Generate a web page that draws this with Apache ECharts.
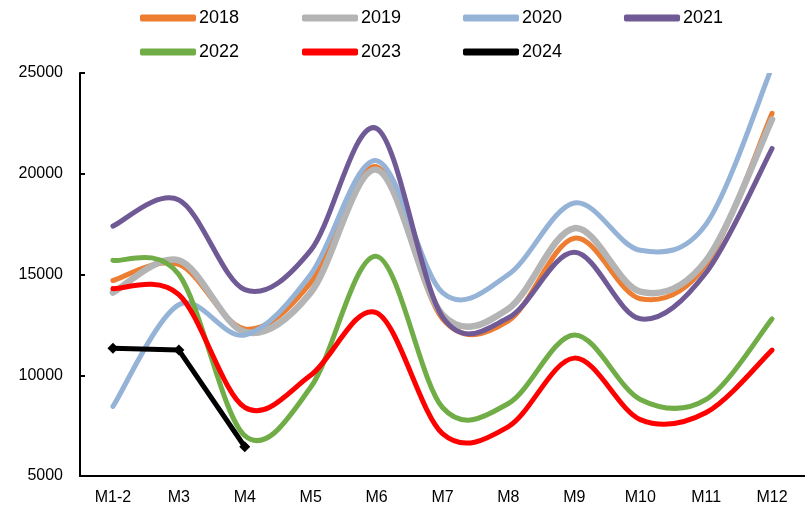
<!DOCTYPE html>
<html>
<head>
<meta charset="utf-8">
<script src="https://cdn.jsdelivr.net/npm/echarts@6/dist/echarts.min.js"></script>
<style>
html,body{margin:0;padding:0;background:#fff;}
#chart{width:805px;height:509px;}
</style>
</head>
<body>
<div id="chart"></div>
<script>
var categories = ['M1-2','M3','M4','M5','M6','M7','M8','M9','M10','M11','M12'];
var yTicks = [5000, 10000, 15000, 20000, 25000];
var s2018 = [14700, 15500, 12300, 14600, 20350, 12800, 12700, 16800, 13800, 15500, 23000];
var s2019 = [14100, 15700, 12150, 14100, 20200, 13000, 13300, 17300, 14150, 15700, 22700];
var s2020 = [8450, 13500, 12000, 15000, 20650, 14100, 15000, 18550, 16200, 17500, 25300];
var s2021 = [17400, 18700, 14250, 16200, 22250, 12900, 12850, 16100, 12800, 15100, 21250];
var s2022 = [15700, 15000, 7000, 9400, 15900, 8400, 8600, 12000, 8800, 8800, 12800];
var s2023 = [14300, 14000, 8400, 10000, 13100, 7100, 7450, 10850, 7800, 8150, 11250];
var s2024 = [11340, 11250, 6450];

var FONT = "'Liberation Sans', Arial, sans-serif";
var chart = echarts.init(document.getElementById('chart'), null, {renderer:'canvas'});

// Smooth curve through the points (Catmull-Rom style, like spreadsheet smoothing),
// positions obtained from the chart's own axes via api.coord.
function splineSeries(name, data, color, width) {
  return {
    name: name, type: 'custom', clip: true, silent: true,
    data: data.map(function (v, i) { return [i, v]; }),
    encode: {x: 0, y: 1},
    itemStyle: {color: color},
    renderItem: function (params, api) {
      if (params.dataIndex !== 0) return null;
      var pts = data.map(function (v, i) { return api.coord([i, v]); });
      var d = 'M' + pts[0][0] + ' ' + pts[0][1];
      for (var i = 0; i < pts.length - 1; i++) {
        var p0 = pts[i - 1] || pts[i], p1 = pts[i], p2 = pts[i + 1], p3 = pts[i + 2] || pts[i + 1];
        var c1x = p1[0] + (p2[0] - p0[0]) / 6, c1y = p1[1] + (p2[1] - p0[1]) / 6;
        var c2x = p2[0] - (p3[0] - p1[0]) / 6, c2y = p2[1] - (p3[1] - p1[1]) / 6;
        d += ' C' + c1x + ' ' + c1y + ' ' + c2x + ' ' + c2y + ' ' + p2[0] + ' ' + p2[1];
      }
      return {
        type: 'path',
        shape: {pathData: d},
        style: {fill: 'none', stroke: color, lineWidth: width, lineCap: 'round', lineJoin: 'round'}
      };
    }
  };
}

var legendPos = [
  {name: '2018', left: 140, top: 9}, {name: '2019', left: 302, top: 9},
  {name: '2020', left: 463, top: 9}, {name: '2021', left: 624, top: 9},
  {name: '2022', left: 140, top: 43}, {name: '2023', left: 302, top: 43},
  {name: '2024', left: 463, top: 43}
];
var legends = legendPos.map(function (p) {
  return {
    data: [p.name], left: p.left, top: p.top, padding: 0,
    itemWidth: 56, itemHeight: 7, itemGap: 0, icon: 'roundRect',
    textStyle: {fontFamily: FONT, fontSize: 18, color: '#000', padding: [0, 0, 0, -2]},
    selectedMode: false
  };
});

var option = {
  animation: false,
  backgroundColor: '#fff',
  legend: legends,
  grid: {left: 80, right: 0, top: 73, bottom: 33, containLabel: false},
  xAxis: {
    type: 'category', data: categories, boundaryGap: true,
    axisLine: {lineStyle: {color: '#000', width: 2}},
    axisTick: {inside: true, length: 5, interval: 0, lineStyle: {color: '#000', width: 2}},
    axisLabel: {fontFamily: FONT, fontSize: 16, color: '#000', margin: 14, interval: 0},
    splitLine: {show: false}
  },
  yAxis: {
    type: 'value', min: yTicks[0], max: yTicks[yTicks.length - 1], interval: 5000,
    axisLine: {show: true, lineStyle: {color: '#000', width: 2}},
    axisTick: {show: true, inside: true, length: 5, lineStyle: {color: '#000', width: 2}},
    axisLabel: {fontFamily: FONT, fontSize: 16, color: '#000', margin: 17,
      formatter: function (v) { return String(v); }},
    splitLine: {show: false}
  },
  series: [
    splineSeries('2018', s2018, '#ED7D31', 5),
    splineSeries('2019', s2019, '#B4B4B4', 6.5),
    splineSeries('2020', s2020, '#95B3D7', 5),
    splineSeries('2021', s2021, '#6F5A96', 5),
    splineSeries('2022', s2022, '#70AD47', 5),
    splineSeries('2023', s2023, '#FF0000', 5),
    {
      name: '2024', type: 'line', data: s2024, smooth: false,
      symbol: 'diamond', symbolSize: 11, showSymbol: true,
      lineStyle: {color: '#000', width: 5},
      itemStyle: {color: '#000'},
      emphasis: {disabled: true}
    }
  ]
};
chart.setOption(option);
</script>
</body>
</html>
